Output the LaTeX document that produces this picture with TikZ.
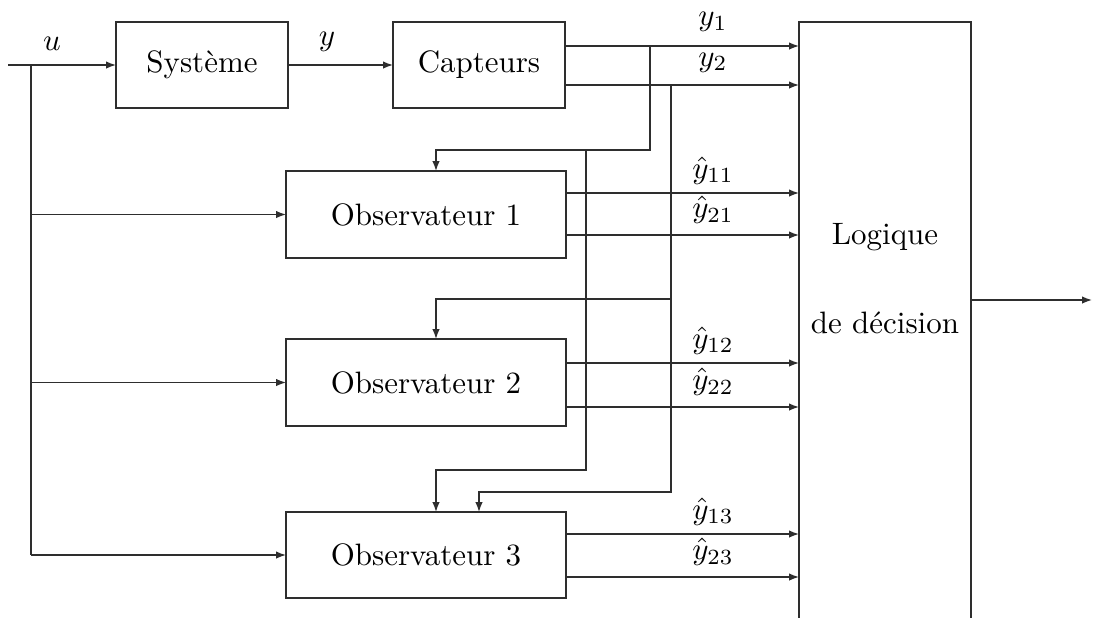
\documentclass[tikz,border=0pt]{standalone}
\usetikzlibrary{arrows.meta}
\newcommand\pxunit{0.323pt}
\tikzset{
  wire/.style={draw=black!82, line width=0.45pt},
  arr/.style={wire, -{Latex[length=3.2pt,width=2.4pt]}},
  blk/.style={draw=black!82, line width=0.45pt, rectangle, inner sep=0pt, outer sep=0pt},
  lab/.style={anchor=south, inner sep=0pt, yshift=4.5pt},
  hlabA/.style={anchor=south, inner sep=0pt, yshift=2.6pt},
  hlabB/.style={anchor=south, inner sep=0pt, yshift=3.5pt},
}
\begin{document}
\begin{tikzpicture}[x=0.323pt, y=-0.323pt]
\clip (0,0) rectangle (1093,617);
% blocks
\node[blk, minimum width=172*\pxunit, minimum height=86*\pxunit] (sys) at (202,65) {Système};
\node[blk, minimum width=172*\pxunit, minimum height=86*\pxunit] (cap) at (479,65) {Capteurs};
\node[blk, minimum width=280*\pxunit, minimum height=87*\pxunit] (obs1) at (426,214.5) {Observateur 1};
\node[blk, minimum width=280*\pxunit, minimum height=87*\pxunit] (obs2) at (426,382.5) {Observateur 2};
\node[blk, minimum width=280*\pxunit, minimum height=86*\pxunit] (obs3) at (426,555) {Observateur 3};
\node[blk, minimum width=172*\pxunit, minimum height=636*\pxunit] (log) at (885,340) {};
\node[anchor=base] (lt1) at (885,244) {Logique};
\node[anchor=base] (lt2) at (885,333) {de décision};
% reference coordinates
\coordinate (in) at (8,65);
\coordinate (ub) at (31,65);
\coordinate (r1) at (0,46);
\coordinate (r2) at (0,85);
\coordinate (h1) at (0,150);
\coordinate (h2) at (0,299);
\coordinate (h3) at (0,470);
\coordinate (h4) at (0,492);
\coordinate (v1) at (650,0);
\coordinate (v2) at (671,0);
\coordinate (v3) at (586,0);
\coordinate (a1) at (436,0);
\coordinate (a2) at (479,0);
\coordinate (e11) at (0,193);
\coordinate (e21) at (0,235);
\coordinate (e12) at (0,363);
\coordinate (e22) at (0,407);
\coordinate (e13) at (0,534);
\coordinate (e23) at (0,577);
\coordinate (ro) at (0,300);
\coordinate (out) at (1092,300);
% input u
\draw[arr] (in) -- (sys.west);
\draw[wire] (ub) -- (ub |- obs3.west);
\draw[arr] (ub |- obs1.west) -- (obs1.west);
\draw[arr] (ub |- obs2.west) -- (obs2.west);
\draw[arr] (ub |- obs3.west) -- (obs3.west);
\node[lab] (lu) at (52,65) {$u$};
% system -> sensors
\draw[arr] (sys.east) -- (cap.west);
\node[lab, yshift=-0.3pt] (ly) at (327,65) {$y$};
% sensor outputs
\draw[arr] (cap.east |- r1) -- (log.west |- r1);
\draw[arr] (cap.east |- r2) -- (log.west |- r2);
\node[lab] (ly1) at (713,46) {$y_1$};
\node[lab, yshift=-0.6pt] (ly2) at (713,85) {$y_2$};
% distribution to observers
\draw[arr] (v1 |- r1) |- (a1 |- h1) -- (a1 |- obs1.north);
\draw[arr] (v3 |- h1) |- (a1 |- h3) -- (a1 |- obs3.north);
\draw[arr] (v2 |- r2) |- (a2 |- h4) -- (a2 |- obs3.north);
\draw[arr] (v2 |- h2) -- (a1 |- h2) -- (a1 |- obs2.north);
% observer outputs
\draw[arr] (obs1.east |- e11) -- (log.west |- e11);
\draw[arr] (obs1.east |- e21) -- (log.west |- e21);
\draw[arr] (obs2.east |- e12) -- (log.west |- e12);
\draw[arr] (obs2.east |- e22) -- (log.west |- e22);
\draw[arr] (obs3.east |- e13) -- (log.west |- e13);
\draw[arr] (obs3.east |- e23) -- (log.west |- e23);
\node[hlabA] (l11) at (713,193) {$\hat{y}_{11}$};
\node[hlabB] (l21) at (713,235) {$\hat{y}_{21}$};
\node[hlabA] (l12) at (713,363) {$\hat{y}_{12}$};
\node[hlabB] (l22) at (713,407) {$\hat{y}_{22}$};
\node[hlabA] (l13) at (713,534) {$\hat{y}_{13}$};
\node[hlabB] (l23) at (713,577) {$\hat{y}_{23}$};
% decision output
\draw[arr] (log.east |- ro) -- (out);
\end{tikzpicture}
\end{document}
